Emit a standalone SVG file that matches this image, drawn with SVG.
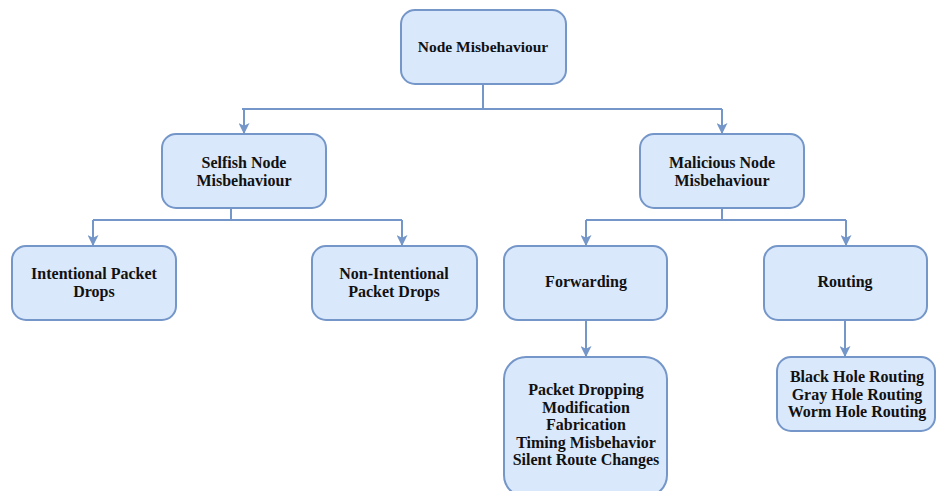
<svg xmlns="http://www.w3.org/2000/svg" width="936" height="491" viewBox="0 0 936 491">
<defs>
<style>
.box{fill:#dae8fc;stroke:#7496c8;stroke-width:2}
.t{font-family:"Liberation Serif","Times New Roman",serif;font-weight:bold;font-size:16px;fill:#111;text-anchor:middle}
.c{fill:none;stroke:#7496c8;stroke-width:2}
</style>
<marker id="ah" viewBox="0 0 10 10" refX="9" refY="5" markerWidth="11" markerHeight="11" markerUnits="userSpaceOnUse" orient="auto">
<path d="M0,0 L10,5 L0,10 L2.5,5 Z" fill="#7496c8"/>
</marker>
</defs>
<rect width="936" height="491" fill="#ffffff"/>
<g id="connectors">
<path class="c" d="M483,84 V109 M242,109 H722"/>
<path class="c" d="M244,109 V133" marker-end="url(#ah)"/>
<path class="c" d="M722,109 V133" marker-end="url(#ah)"/>
<path class="c" d="M231,208 V220 M93,220 H402"/>
<path class="c" d="M93,220 V245" marker-end="url(#ah)"/>
<path class="c" d="M402,220 V245" marker-end="url(#ah)"/>
<path class="c" d="M722,208 V220 M586,220 H846"/>
<path class="c" d="M586,220 V245" marker-end="url(#ah)"/>
<path class="c" d="M846,220 V245" marker-end="url(#ah)"/>
<path class="c" d="M586,320 V356" marker-end="url(#ah)"/>
<path class="c" d="M845,320 V356" marker-end="url(#ah)"/>
</g>
<g id="root">
<rect class="box" x="401" y="10" width="165" height="74" rx="14"/>
<text class="t" x="483" y="52" style="font-size:15.5px">Node Misbehaviour</text>
</g>
<g id="selfish">
<rect class="box" x="162" y="134" width="164" height="74" rx="14"/>
<text class="t" x="244" y="168">Selfish Node</text>
<text class="t" x="244" y="186">Misbehaviour</text>
</g>
<g id="malicious">
<rect class="box" x="640" y="134" width="164" height="74" rx="14"/>
<text class="t" x="722" y="168">Malicious Node</text>
<text class="t" x="722" y="186">Misbehaviour</text>
</g>
<g id="intentional">
<rect class="box" x="12" y="246" width="164" height="74" rx="14"/>
<text class="t" x="94" y="279">Intentional Packet</text>
<text class="t" x="94" y="297">Drops</text>
</g>
<g id="nonintentional">
<rect class="box" x="312" y="246" width="165" height="74" rx="14"/>
<text class="t" x="394" y="279">Non-Intentional</text>
<text class="t" x="394" y="297">Packet Drops</text>
</g>
<g id="forwarding">
<rect class="box" x="504" y="246" width="163" height="74" rx="14"/>
<text class="t" x="586" y="287">Forwarding</text>
</g>
<g id="routing">
<rect class="box" x="764" y="246" width="163" height="74" rx="14"/>
<text class="t" x="845" y="287">Routing</text>
</g>
<g id="forwarding-attacks">
<rect class="box" x="504" y="357" width="163" height="140" rx="22"/>
<text class="t" x="586" y="395">Packet Dropping</text>
<text class="t" x="586" y="412.5">Modification</text>
<text class="t" x="586" y="430">Fabrication</text>
<text class="t" x="586" y="447.5">Timing Misbehavior</text>
<text class="t" x="586" y="465">Silent Route Changes</text>
</g>
<g id="routing-attacks">
<rect class="box" x="777" y="357" width="158" height="74" rx="14"/>
<text class="t" x="857" y="382">Black Hole Routing</text>
<text class="t" x="857" y="399.5">Gray Hole Routing</text>
<text class="t" x="857" y="417">Worm Hole Routing</text>
</g>
</svg>
